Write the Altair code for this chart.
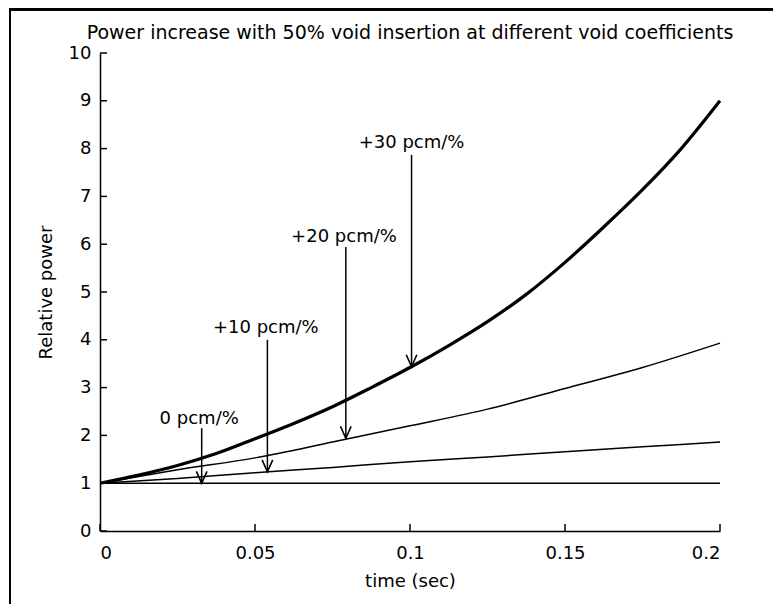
import altair as alt
import pandas as pd

# ---- data ----
title_text = "Power increase with 50% void insertion at different void coefficients"

t_30 = [0, 0.0125, 0.025, 0.0375, 0.05, 0.0625, 0.075, 0.0875, 0.1, 0.1125, 0.125, 0.1375, 0.15, 0.1625, 0.175, 0.1875, 0.2]
p_30 = [1.0, 1.17, 1.37, 1.62, 1.93, 2.25, 2.6, 3.0, 3.42, 3.88, 4.38, 4.95, 5.62, 6.36, 7.14, 8.0, 9.0]

t_20 = [0, 0.025, 0.05, 0.075, 0.1, 0.125, 0.15, 0.175, 0.2]
p_20 = [1.0, 1.28, 1.53, 1.86, 2.2, 2.55, 2.98, 3.42, 3.93]

t_10 = [0, 0.025, 0.05, 0.075, 0.1, 0.125, 0.15, 0.175, 0.2]
p_10 = [1.0, 1.10, 1.22, 1.33, 1.45, 1.55, 1.66, 1.76, 1.86]

t_0 = [0, 0.2]
p_0 = [1.0, 1.0]

ann_labels = ["0 pcm/%", "+10 pcm/%", "+20 pcm/%", "+30 pcm/%"]
ann_text_t = [0.032, 0.0535, 0.0787, 0.1005]
ann_text_p = [2.34, 4.25, 6.16, 8.12]
arrow_t = [0.0328, 0.054, 0.0793, 0.1005]
arrow_top = [2.15, 4.0, 5.94, 7.87]
arrow_tip = [1.0, 1.24, 1.94, 3.44]

x_ticks = [0, 0.05, 0.1, 0.15, 0.2]
y_ticks = [0, 1, 2, 3, 4, 5, 6, 7, 8, 9, 10]

FONT = "DejaVu Sans"

# ---- tables ----
thin_rows = []
for name, ts, ps in [("0", t_0, p_0), ("+10", t_10, p_10), ("+20", t_20, p_20)]:
    for t, p in zip(ts, ps):
        thin_rows.append({"series": name, "t": t, "p": p})
thin_df = pd.DataFrame(thin_rows)
thick_df = pd.DataFrame({"t": t_30, "p": p_30})
text_df = pd.DataFrame({"label": ann_labels, "t": ann_text_t, "p": ann_text_p})
arrow_df = pd.DataFrame({"t": arrow_t, "p": arrow_top, "p_tip": arrow_tip})
tip_df = pd.DataFrame({"t": arrow_t, "p": arrow_tip})
xt_df = pd.DataFrame({"t": x_ticks})
yt_df = pd.DataFrame({"p": y_ticks})

x_scale = alt.Scale(domain=[0, 0.2], nice=False, zero=False)
y_scale = alt.Scale(domain=[0, 10], nice=False)


def X(field="t"):
    return alt.X(f"{field}:Q", scale=x_scale, title="time (sec)",
                 axis=alt.Axis(values=x_ticks, format="~g", labelPadding=13,
                               titlePadding=10))


def Y(field="p"):
    return alt.Y(f"{field}:Q", scale=y_scale, title="Relative power",
                 axis=alt.Axis(values=y_ticks, format="d", labelPadding=9,
                               titlePadding=13))


thin = alt.Chart(thin_df).mark_line(color="black", strokeWidth=1.5,
                                    interpolate="monotone").encode(
    x=X(), y=Y(), detail="series:N")
thick = alt.Chart(thick_df).mark_line(color="black", strokeWidth=3.2,
                                      interpolate="monotone").encode(
    x=X(), y=Y())

arrows = alt.Chart(arrow_df).mark_rule(color="black", strokeWidth=1.5).encode(
    x=X(), y=Y(), y2=alt.Y2("p_tip:Q"))
heads = alt.Chart(tip_df).mark_point(
    shape="M -0.45 -1 L 0 0 L 0.45 -1", filled=False, color="black",
    strokeWidth=1.6, size=560, opacity=1).encode(x=X(), y=Y())
texts = alt.Chart(text_df).mark_text(
    font=FONT, fontSize=18, color="black", align="center", baseline="middle").encode(
    x=X(), y=Y(), text="label:N")

xticks = alt.Chart(xt_df).mark_rule(color="black", strokeWidth=1.5).encode(
    x=X(), y=alt.value(478), y2=alt.value(471))
yticks = alt.Chart(yt_df).mark_rule(color="black", strokeWidth=1.5).encode(
    y=Y(), x=alt.value(0), x2=alt.value(7))

# figure frame (left and top edges visible in the reference)
frame_left = alt.Chart(yt_df).mark_rule(color="black", strokeWidth=2).encode(
    x=alt.value(-90), y=alt.value(-45), y2=alt.value(560))
frame_top = alt.Chart(yt_df).mark_rule(color="black", strokeWidth=2.5).encode(
    y=alt.value(-44), x=alt.value(-91), x2=alt.value(680))

chart = alt.layer(
    thin, thick, arrows, heads, texts, xticks, yticks, frame_left, frame_top
).properties(
    width=620, height=478,
    title=alt.Title(title_text, font=FONT, fontSize=19, fontWeight="normal",
                    color="black", anchor="middle", offset=-36),
    autosize=alt.AutoSizeParams(type="none"),
    padding={"left": 92, "top": 45, "right": 53, "bottom": 73},
    background="white",
).configure_view(strokeWidth=0).configure_axis(
    domainColor="black", domainWidth=1.5, ticks=False, tickSize=0, grid=False,
    labelFont=FONT, labelFontSize=18, labelColor="black",
    titleFont=FONT, titleFontSize=18, titleFontWeight="normal", titleColor="black",
).configure_axisY(labelAlign="right")

chart.save("out.html", embed_options={"renderer": "svg", "actions": False})
